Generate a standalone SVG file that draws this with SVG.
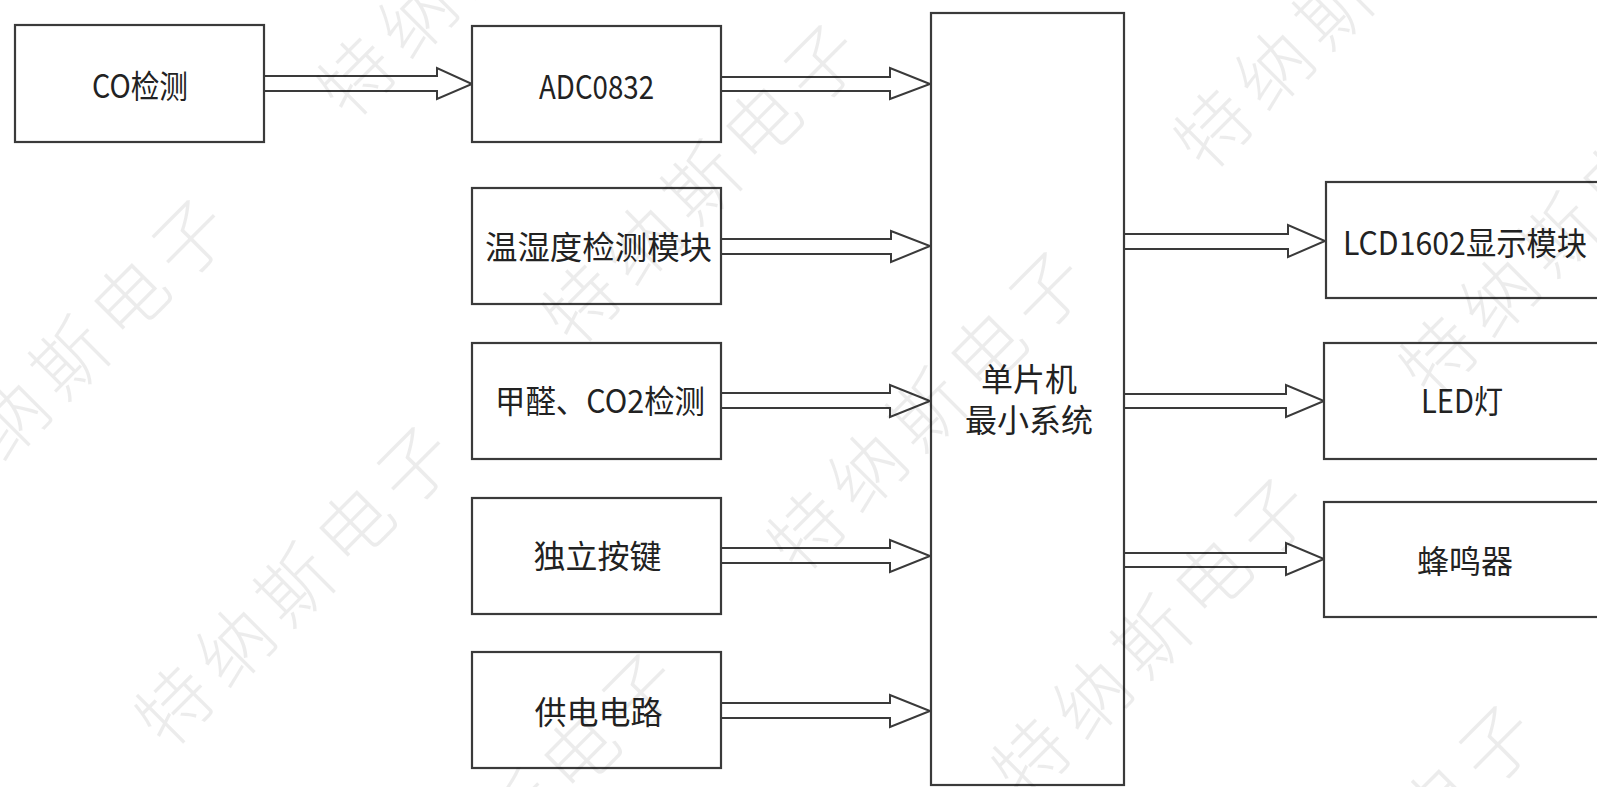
<svg xmlns="http://www.w3.org/2000/svg" width="1597" height="787" viewBox="0 0 1597 787">
<style>
.box{fill:#fff;stroke:#3a3a3a;stroke-width:2.2}
.lbl{font-family:"Noto Sans CJK SC","Liberation Sans",sans-serif;font-size:32px;fill:#222;text-anchor:middle;dominant-baseline:central}
.arr{fill:#fff;stroke:#3a3a3a;stroke-width:2;stroke-linejoin:miter}
.wm{font-family:"Noto Sans CJK SC",sans-serif;font-size:74px;font-weight:300;letter-spacing:11px;fill:#000;fill-opacity:0.075;text-anchor:middle;dominant-baseline:central}
</style>
<rect width="1597" height="787" fill="#fff"/>
<g id="connectors">
<path class="arr" d="M264,76 L437,76 L437,68 L472,84 L437,99 L437,91 L264,91"/>
<path class="arr" d="M721,77 L890,77 L890,68 L930,84 L890,99 L890,91 L721,91"/>
<path class="arr" d="M721,239 L891,239 L891,231 L930,246 L891,262 L891,254 L721,254"/>
<path class="arr" d="M721,393 L890,393 L890,385 L930,401 L890,417 L890,408 L721,408"/>
<path class="arr" d="M721,548 L890,548 L890,540 L930,556 L890,572 L890,563 L721,563"/>
<path class="arr" d="M721,703 L890,703 L890,695 L930,711 L890,727 L890,718 L721,718"/>
<path class="arr" d="M1124,234 L1288,234 L1288,225 L1325,241 L1288,257 L1288,249 L1124,249"/>
<path class="arr" d="M1124,394 L1286,394 L1286,385 L1324,401 L1286,417 L1286,408 L1124,408"/>
<path class="arr" d="M1124,553 L1286,553 L1286,543 L1324,559 L1286,575 L1286,567 L1124,567"/>
</g>
<g id="co"><rect class="box" x="15" y="25" width="249" height="117"/><text class="lbl" x="140" y="84" textLength="96" lengthAdjust="spacingAndGlyphs">CO检测</text></g>
<g id="adc"><rect class="box" x="472" y="26" width="249" height="116"/><text class="lbl" x="596.5" y="84.5" textLength="115" lengthAdjust="spacingAndGlyphs">ADC0832</text></g>
<g id="th"><rect class="box" x="472" y="188" width="249" height="116"/><text class="lbl" x="598.5" y="245" textLength="227" lengthAdjust="spacingAndGlyphs">温湿度检测模块</text></g>
<g id="hcho"><rect class="box" x="472" y="343" width="249" height="116"/><text class="lbl" x="600" y="399" textLength="210" lengthAdjust="spacingAndGlyphs">甲醛、CO2检测</text></g>
<g id="key"><rect class="box" x="472" y="498" width="249" height="116"/><text class="lbl" x="597.5" y="554">独立按键</text></g>
<g id="power"><rect class="box" x="472" y="652" width="249" height="116"/><text class="lbl" x="598.5" y="710">供电电路</text></g>
<g id="mcu"><rect class="box" x="931" y="13" width="193" height="772"/><text class="lbl" x="1029" y="377">单片机</text><text class="lbl" x="1029" y="418">最小系统</text></g>
<g id="lcd"><rect class="box" x="1326" y="182" width="280" height="116"/><text class="lbl" x="1465" y="241" textLength="244" lengthAdjust="spacingAndGlyphs">LCD1602显示模块</text></g>
<g id="led"><rect class="box" x="1324" y="343" width="280" height="116"/><text class="lbl" x="1462" y="399" textLength="82" lengthAdjust="spacingAndGlyphs">LED灯</text></g>
<g id="buzzer"><rect class="box" x="1324" y="502" width="280" height="115"/><text class="lbl" x="1465" y="559">蜂鸣器</text></g>
<g id="watermark">
<text class="wm" transform="translate(295,578) rotate(-45)">特纳斯电子</text>
<text class="wm" transform="translate(70,351) rotate(-45)">特纳斯电子</text>
<text class="wm" transform="translate(520,805) rotate(-45)">特纳斯电子</text>
<text class="wm" transform="translate(477,-51) rotate(-45)">特纳斯电子</text>
<text class="wm" transform="translate(702,176) rotate(-45)">特纳斯电子</text>
<text class="wm" transform="translate(927,403) rotate(-45)">特纳斯电子</text>
<text class="wm" transform="translate(1152,630) rotate(-45)">特纳斯电子</text>
<text class="wm" transform="translate(1377,857) rotate(-45)">特纳斯电子</text>
<text class="wm" transform="translate(1334,1) rotate(-45)">特纳斯电子</text>
<text class="wm" transform="translate(1559,228) rotate(-45)">特纳斯电子</text>
</g>
</svg>
